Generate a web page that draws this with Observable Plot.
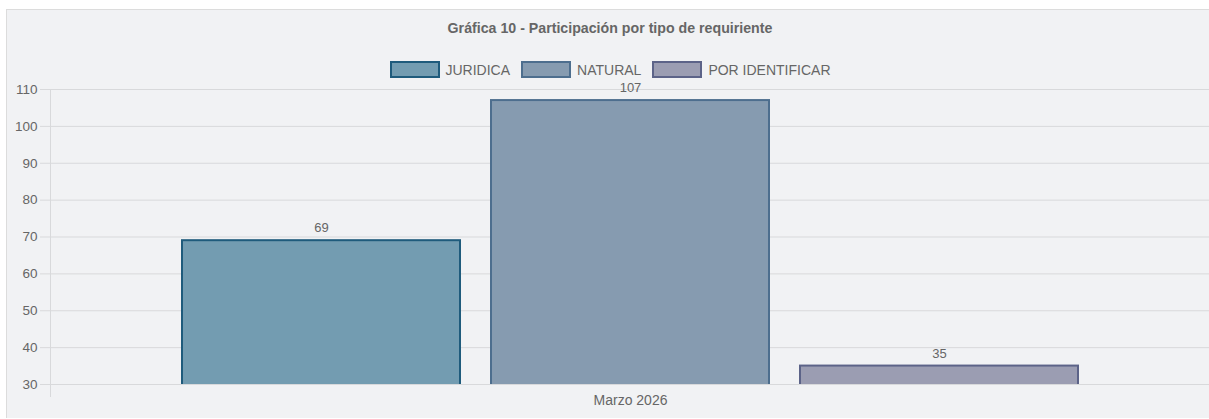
<!DOCTYPE html>
<html>
<head>
<meta charset="utf-8">
<script src="https://cdn.jsdelivr.net/npm/d3@7"></script>
<script src="https://cdn.jsdelivr.net/npm/@observablehq/plot@0.6"></script>
<style>
  html, body { margin: 0; padding: 0; background: #ffffff; overflow: hidden; width: 1209px; height: 419px; }
  #page { position: relative; width: 1209px; height: 419px; overflow: hidden; font-family: "Liberation Sans", Arial, Helvetica, sans-serif; }
  #panel { position: absolute; left: 6px; top: 9px; width: 1220px; height: 409px; background: #f1f2f4; border-top: 1px solid #dcdcdc; border-left: 1px solid #dcdcdc; box-sizing: border-box; }
  #title { position: absolute; left: 6px; width: 1208px; top: 20px; text-align: center; font-size: 14.2px; font-weight: bold; color: #666; line-height: 17px; }
  #legend { position: absolute; left: 6px; width: 1208px; top: 61px; display: flex; justify-content: center; align-items: center; font-size: 14px; color: #666; line-height: 16px; }
  .item { display: flex; align-items: center; margin: 0 5.5px; }
  .swatch { width: 46px; height: 13px; border: 2px solid; margin-right: 6px; }
  #chart { position: absolute; left: 0; top: 79px; }
  #chart svg { max-width: none !important; overflow: visible; }
</style>
</head>
<body>
<div id="page">
  <div id="panel"></div>
  <div id="title"></div>
  <div id="legend"></div>
  <div id="chart"></div>
</div>
<script>
const titleText = "Gráfica 10 - Participación por tipo de requiriente";
const period = "Marzo 2026";
const types = ["JURIDICA", "NATURAL", "POR IDENTIFICAR"];
const values = [69, 107, 35];
const fills = ["#739cb1", "#869bb0", "#9b9db2"];
const strokes = ["#1f5b7c", "#4d6e8e", "#5c6388"];
const yTicks = [30, 40, 50, 60, 70, 80, 90, 100, 110];

const data = types.map((t, i) => ({period, type: t, value: values[i]}));

document.getElementById("title").textContent = titleText;
const legend = document.getElementById("legend");
types.forEach((t, i) => {
  const item = document.createElement("div");
  item.className = "item";
  const sw = document.createElement("div");
  sw.className = "swatch";
  sw.style.background = fills[i];
  sw.style.borderColor = strokes[i];
  const lab = document.createElement("span");
  lab.textContent = t;
  item.appendChild(sw);
  item.appendChild(lab);
  legend.appendChild(item);
});

const chart = Plot.plot({
  width: 1215,
  height: 340,
  marginLeft: 50,
  marginRight: 5,
  marginTop: 10,
  marginBottom: 35,
  style: {background: "transparent", fontFamily: "'Liberation Sans', Arial, sans-serif", fontSize: "13px", color: "#666", maxWidth: "none"},
  fx: {domain: [period], padding: 0, label: null, axis: null},
  x: {domain: types, paddingInner: 0.1, paddingOuter: 0.425, axis: null},
  y: {domain: [30, 110], ticks: yTicks, label: null, axis: null},
  color: {domain: types, range: fills},
  marks: [
    Plot.gridY(yTicks, {stroke: "#d8d9db", strokeOpacity: 1}),
    Plot.axisY(yTicks, {tickSize: 10, tickPadding: 3, stroke: "#d8d9db", color: "#666", fontSize: 13.5, label: null}),
    Plot.frame({anchor: "left", stroke: "#d8d9db", insetBottom: -12}),
    Plot.barY(data, {fx: "period", x: "type", y: "value", fill: "type", stroke: (d) => strokes[types.indexOf(d.type)], strokeWidth: 2, clip: true}),
    Plot.text(data, {fx: "period", x: "type", y: "value", text: d => String(d.value), dy: -12.5, fill: "#666", fontSize: 13}),
    Plot.text([period], {fx: d => d, text: d => d, frameAnchor: "bottom", dy: 20, fill: "#666", fontSize: 14})
  ]
});
chart.style.maxWidth = "none";
document.getElementById("chart").appendChild(chart);
</script>
</body>
</html>
